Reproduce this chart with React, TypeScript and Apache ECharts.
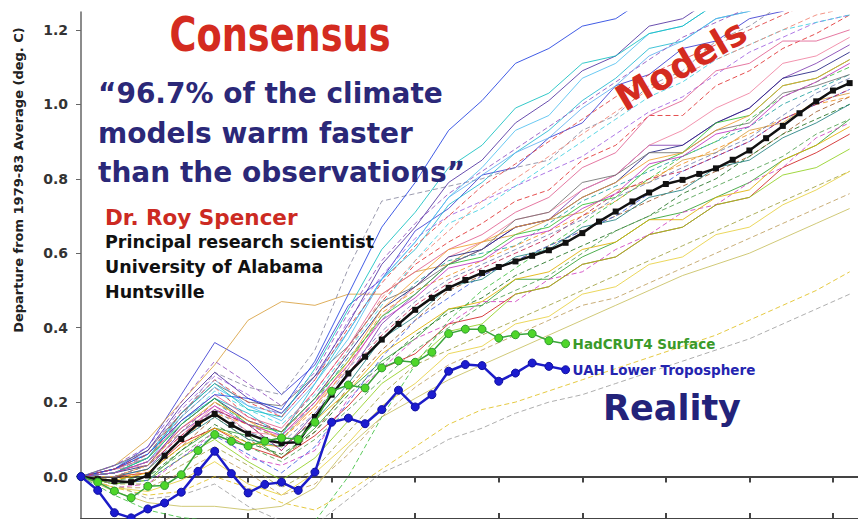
import React, { useEffect, useRef } from 'react';
import * as echarts from 'echarts';

// Years 1979..2025 (one point per year)
const firstYear = 1979;
const years: number[] = Array.from({ length: 47 }, (_, i) => firstYear + i);

// Multi-model mean (black squares)
const modelMean = [
  0, -0.007, -0.012, -0.015, 0.003, 0.056, 0.101, 0.142, 0.168, 0.139,
  0.115, 0.098, 0.09, 0.092, 0.16, 0.22, 0.277, 0.322, 0.368, 0.41,
  0.448, 0.48, 0.507, 0.528, 0.547, 0.563, 0.578, 0.593, 0.608, 0.628,
  0.654, 0.685, 0.712, 0.739, 0.763, 0.786, 0.797, 0.813, 0.828, 0.851,
  0.876, 0.909, 0.942, 0.976, 1.008, 1.037, 1.057,
];

// Observations (1979..2008)
const hadcrut4 = [
  0, -0.015, -0.039, -0.057, -0.026, -0.024, 0.005, 0.07, 0.113, 0.095,
  0.082, 0.095, 0.104, 0.1, 0.146, 0.229, 0.246, 0.238, 0.292, 0.311,
  0.307, 0.334, 0.384, 0.396, 0.396, 0.372, 0.381, 0.384, 0.365, 0.357,
];
const uah = [
  0, -0.037, -0.097, -0.111, -0.087, -0.071, -0.042, 0.014, 0.068, 0.008,
  -0.044, -0.021, -0.015, -0.037, 0.012, 0.146, 0.157, 0.142, 0.18, 0.232,
  0.187, 0.22, 0.283, 0.301, 0.298, 0.256, 0.278, 0.305, 0.296, 0.287,
];

// Individual model runs, sampled every two years
const modelYears = [
  1979, 1981, 1983, 1985, 1987, 1989, 1991, 1993, 1995, 1997, 1999, 2001,
  2003, 2005, 2007, 2009, 2011, 2013, 2015, 2017, 2019, 2021, 2023, 2025,
];
const modelRuns: number[][] = [
  [0, 0.02, 0.08, 0.22, 0.36, 0.31, 0.22, 0.30, 0.46, 0.53, 0.66, 0.72, 0.81, 0.83, 0.91, 0.95, 1.05, 1.08, 1.15, 1.17, 1.23, 1.25, 1.30, 1.32],
  [0, 0.01, 0.05, 0.16, 0.24, 0.16, 0.12, 0.23, 0.35, 0.47, 0.57, 0.63, 0.68, 0.74, 0.77, 0.85, 0.89, 0.97, 0.97, 1.05, 1.09, 1.15, 1.19, 1.24],
  [0, -0.02, -0.01, 0.07, 0.13, 0.11, 0.05, 0.13, 0.23, 0.31, 0.37, 0.45, 0.46, 0.53, 0.53, 0.59, 0.63, 0.69, 0.71, 0.75, 0.79, 0.85, 0.89, 0.96],
  [0, 0.01, 0.04, 0.15, 0.21, 0.17, 0.11, 0.25, 0.39, 0.53, 0.61, 0.73, 0.79, 0.87, 0.93, 1.01, 1.07, 1.15, 1.17, 1.23, 1.25, 1.29, 1.30, 1.32],
  [0, -0.03, -0.02, 0.05, 0.12, 0.05, 0.03, 0.07, 0.21, 0.29, 0.37, 0.41, 0.47, 0.47, 0.53, 0.55, 0.61, 0.65, 0.71, 0.73, 0.79, 0.83, 0.91, 0.95],
  [0, 0.03, 0.10, 0.20, 0.30, 0.42, 0.47, 0.46, 0.49, 0.49, 0.55, 0.57, 0.63, 0.65, 0.69, 0.71, 0.77, 0.79, 0.85, 0.87, 0.93, 0.95, 1.01, 1.03],
  [0, 0.01, 0.06, 0.16, 0.28, 0.24, 0.22, 0.34, 0.56, 0.74, 0.76, 0.78, 0.80, 0.83, 0.85, 0.93, 0.97, 1.05, 1.09, 1.17, 1.21, 1.27, 1.30, 1.30],
  [0, -0.03, -0.05, -0.04, 0.00, -0.03, -0.07, -0.09, -0.04, 0.02, 0.08, 0.14, 0.18, 0.20, 0.23, 0.26, 0.29, 0.32, 0.35, 0.38, 0.42, 0.46, 0.50, 0.55],
  [0, -0.02, -0.06, -0.05, -0.02, -0.08, -0.12, -0.13, -0.06, 0.01, 0.05, 0.10, 0.13, 0.17, 0.20, 0.22, 0.25, 0.28, 0.31, 0.34, 0.37, 0.41, 0.45, 0.49],
  [0, -0.04, -0.07, -0.08, -0.08, -0.09, -0.08, -0.03, 0.08, 0.16, 0.21, 0.26, 0.30, 0.34, 0.38, 0.42, 0.46, 0.50, 0.54, 0.57, 0.60, 0.64, 0.68, 0.72],
  [0, 0.00, 0.02, 0.12, 0.18, 0.14, 0.07, 0.17, 0.27, 0.41, 0.49, 0.57, 0.61, 0.67, 0.69, 0.77, 0.81, 0.89, 0.89, 0.95, 0.99, 1.07, 1.11, 1.16],
  [0, 0.01, 0.04, 0.12, 0.20, 0.14, 0.10, 0.20, 0.32, 0.42, 0.52, 0.58, 0.60, 0.62, 0.68, 0.74, 0.78, 0.82, 0.86, 0.90, 0.94, 1.00, 1.04, 1.08],
  [0, -0.01, 0.01, 0.08, 0.16, 0.10, 0.05, 0.12, 0.24, 0.34, 0.42, 0.50, 0.54, 0.58, 0.62, 0.66, 0.70, 0.74, 0.78, 0.82, 0.86, 0.92, 0.98, 1.02],
  [0, 0.02, 0.03, 0.11, 0.19, 0.12, 0.11, 0.19, 0.29, 0.43, 0.51, 0.59, 0.63, 0.69, 0.71, 0.77, 0.81, 0.89, 0.93, 0.99, 1.03, 1.11, 1.13, 1.18],
  [0, -0.02, 0.00, 0.07, 0.14, 0.09, 0.06, 0.12, 0.22, 0.30, 0.38, 0.44, 0.48, 0.54, 0.58, 0.62, 0.66, 0.70, 0.76, 0.80, 0.86, 0.92, 0.96, 1.00],
  [0, 0.03, 0.06, 0.17, 0.26, 0.19, 0.17, 0.27, 0.39, 0.53, 0.63, 0.75, 0.81, 0.87, 0.91, 0.99, 1.05, 1.13, 1.17, 1.23, 1.25, 1.29, 1.30, 1.30],
  [0, 0.00, 0.01, 0.09, 0.13, 0.08, 0.05, 0.11, 0.19, 0.29, 0.33, 0.41, 0.43, 0.49, 0.51, 0.57, 0.59, 0.65, 0.67, 0.73, 0.75, 0.83, 0.87, 0.92],
  [0, -0.01, 0.02, 0.10, 0.17, 0.14, 0.10, 0.18, 0.30, 0.44, 0.50, 0.54, 0.58, 0.62, 0.66, 0.70, 0.74, 0.80, 0.84, 0.88, 0.92, 0.96, 1.00, 1.02],
  [0, 0.02, 0.07, 0.18, 0.27, 0.22, 0.16, 0.26, 0.42, 0.54, 0.64, 0.70, 0.74, 0.78, 0.82, 0.86, 0.92, 0.98, 1.02, 1.08, 1.14, 1.18, 1.22, 1.24],
  [0, -0.02, -0.01, 0.05, 0.10, 0.04, -0.01, 0.05, 0.15, 0.25, 0.31, 0.39, 0.41, 0.49, 0.51, 0.57, 0.59, 0.65, 0.67, 0.73, 0.75, 0.81, 0.83, 0.88],
  [0, 0.01, 0.03, 0.14, 0.21, 0.15, 0.12, 0.21, 0.33, 0.45, 0.51, 0.59, 0.61, 0.67, 0.69, 0.75, 0.79, 0.87, 0.89, 0.95, 0.99, 1.07, 1.09, 1.14],
  [0, 0.02, 0.05, 0.14, 0.23, 0.18, 0.14, 0.22, 0.34, 0.46, 0.58, 0.68, 0.72, 0.78, 0.84, 0.90, 0.96, 1.02, 1.06, 1.12, 1.16, 1.20, 1.22, 1.24],
  [0, -0.01, 0.01, 0.08, 0.13, 0.09, 0.08, 0.15, 0.23, 0.33, 0.39, 0.45, 0.47, 0.53, 0.55, 0.61, 0.63, 0.69, 0.69, 0.75, 0.77, 0.85, 0.89, 0.94],
  [0, 0.03, 0.07, 0.17, 0.25, 0.20, 0.19, 0.27, 0.35, 0.47, 0.51, 0.57, 0.61, 0.69, 0.71, 0.79, 0.81, 0.87, 0.87, 0.93, 0.95, 1.03, 1.05, 1.08],
  [0, -0.05, -0.09, -0.11, -0.12, -0.14, -0.16, -0.12, 0.00, 0.16, 0.30, 0.42, 0.50, 0.56, 0.62, 0.68, 0.74, 0.80, 0.86, 0.90, 0.96, 1.02, 1.06, 1.10],
  [0, 0.01, 0.04, 0.12, 0.20, 0.15, 0.12, 0.20, 0.34, 0.48, 0.58, 0.66, 0.74, 0.80, 0.86, 0.92, 0.98, 1.04, 1.08, 1.12, 1.16, 1.20, 1.24, 1.26],
  [0, -0.02, -0.01, 0.05, 0.11, 0.06, 0.01, 0.08, 0.20, 0.32, 0.42, 0.48, 0.54, 0.58, 0.62, 0.66, 0.70, 0.76, 0.82, 0.86, 0.90, 0.96, 1.00, 1.04],
  [0, 0.02, 0.05, 0.15, 0.22, 0.16, 0.13, 0.23, 0.35, 0.49, 0.55, 0.61, 0.65, 0.71, 0.75, 0.83, 0.87, 0.97, 1.01, 1.09, 1.11, 1.17, 1.17, 1.20],
  [0, 0.00, 0.02, 0.10, 0.16, 0.10, 0.08, 0.15, 0.25, 0.37, 0.43, 0.51, 0.53, 0.59, 0.61, 0.67, 0.69, 0.75, 0.77, 0.83, 0.85, 0.91, 0.95, 1.00],
  [0, 0.03, 0.08, 0.20, 0.31, 0.25, 0.19, 0.28, 0.44, 0.58, 0.68, 0.76, 0.82, 0.88, 0.94, 1.00, 1.06, 1.12, 1.18, 1.22, 1.26, 1.28, 1.30, 1.30],
  [0, -0.02, -0.02, 0.03, 0.08, 0.03, -0.03, 0.02, 0.12, 0.22, 0.30, 0.34, 0.38, 0.42, 0.46, 0.50, 0.54, 0.58, 0.62, 0.66, 0.70, 0.74, 0.78, 0.82],
  [0, 0.02, 0.06, 0.16, 0.24, 0.19, 0.15, 0.25, 0.37, 0.53, 0.63, 0.75, 0.83, 0.93, 0.97, 1.07, 1.11, 1.19, 1.21, 1.27, 1.30, 1.30, 1.30, 1.30],
  [0, 0.00, 0.03, 0.11, 0.18, 0.14, 0.07, 0.16, 0.28, 0.38, 0.46, 0.52, 0.56, 0.60, 0.64, 0.70, 0.76, 0.80, 0.82, 0.86, 0.90, 0.96, 1.00, 1.04],
  [0, 0.01, 0.05, 0.14, 0.21, 0.14, 0.12, 0.21, 0.31, 0.43, 0.49, 0.57, 0.59, 0.65, 0.67, 0.73, 0.75, 0.83, 0.87, 0.95, 0.97, 1.05, 1.07, 1.12],
  [0, -0.03, -0.03, 0.01, 0.06, 0.01, -0.05, -0.02, 0.06, 0.16, 0.24, 0.30, 0.34, 0.38, 0.42, 0.46, 0.48, 0.52, 0.56, 0.60, 0.64, 0.68, 0.72, 0.76],
  [0, 0.02, 0.07, 0.19, 0.28, 0.21, 0.17, 0.27, 0.41, 0.57, 0.67, 0.79, 0.85, 0.95, 1.01, 1.09, 1.13, 1.21, 1.23, 1.29, 1.30, 1.30, 1.30, 1.30],
  [0, 0.02, 0.06, 0.15, 0.22, 0.21, 0.18, 0.31, 0.49, 0.67, 0.79, 0.93, 1.01, 1.11, 1.15, 1.21, 1.23, 1.29, 1.30, 1.30, 1.30, 1.30, 1.30, 1.30],
  [0, 0.01, 0.05, 0.17, 0.25, 0.18, 0.16, 0.29, 0.45, 0.61, 0.71, 0.83, 0.89, 0.99, 1.03, 1.11, 1.13, 1.19, 1.21, 1.27, 1.28, 1.30, 1.30, 1.30],
  [0, 0.00, 0.03, 0.13, 0.20, 0.15, 0.10, 0.19, 0.31, 0.45, 0.53, 0.61, 0.63, 0.67, 0.69, 0.75, 0.79, 0.85, 0.87, 0.93, 0.97, 1.05, 1.07, 1.12],
  [0, -0.01, 0.00, 0.06, 0.12, 0.08, 0.04, 0.10, 0.18, 0.26, 0.34, 0.40, 0.46, 0.50, 0.54, 0.60, 0.66, 0.70, 0.74, 0.78, 0.82, 0.86, 0.92, 0.96],
  [0, 0.01, 0.04, 0.13, 0.19, 0.14, 0.11, 0.20, 0.30, 0.42, 0.48, 0.56, 0.58, 0.64, 0.66, 0.72, 0.76, 0.84, 0.86, 0.92, 0.94, 1.02, 1.06, 1.11],
  [0, 0.00, 0.03, 0.10, 0.18, 0.12, 0.09, 0.17, 0.29, 0.39, 0.47, 0.53, 0.57, 0.61, 0.65, 0.69, 0.75, 0.79, 0.83, 0.87, 0.91, 0.97, 1.03, 1.07],
  [0, -0.03, -0.04, -0.01, 0.04, -0.02, -0.05, 0.01, 0.09, 0.19, 0.25, 0.33, 0.35, 0.41, 0.43, 0.49, 0.51, 0.57, 0.59, 0.65, 0.67, 0.73, 0.77, 0.82],
  [0, 0.02, 0.06, 0.17, 0.26, 0.20, 0.16, 0.26, 0.40, 0.52, 0.62, 0.70, 0.78, 0.84, 0.90, 0.96, 1.02, 1.08, 1.12, 1.16, 1.20, 1.24, 1.28, 1.30],
];
const modelColors = [
  '#3a3ad0', '#e03030', '#30a030', '#20b8d0', '#d040c0', '#d8a040', '#8a8aa0', '#e0c020', '#a0a0a0', '#c8c060',
  '#8040b0', '#20a0a0', '#a05a2a', '#f080a0', '#207020', '#60b0f0', '#d02020', '#f09020', '#a060e0', '#90d020',
  '#202080', '#40d0e0', '#e0b000', '#707070', '#40c040', '#f08070', '#4060e0', '#e06090', '#208080', '#9050c0',
  '#a0a040', '#50c0f0', '#c02050', '#30c030', '#c0a060', '#5030a0', '#2040e0', '#10c0c0', '#f0a030', '#50a050',
  '#c030c0', '#7080b0', '#e8d040', '#e04040',
];
const modelDashed = [
  false, true, false, false, true, false, true, true, true, false,
  false, true, true, false, true, false, false, true, true, false,
  false, true, false, false, true, true, true, false, false, true,
  true, false, true, false, true, false, false, false, false, true,
  false, true, false, true,
];

const yTicks = [0, 0.2, 0.4, 0.6, 0.8, 1.0, 1.2];
const xTicks = [1984, 1989, 1994, 1999, 2004, 2009, 2014, 2019, 2024];

const BOLD = '"DejaVu Sans", Verdana, sans-serif';
const CONDENSED = '"DejaVu Sans Condensed", "DejaVu Sans", sans-serif';

export default function App() {
  const ref = useRef<HTMLDivElement>(null);
  useEffect(() => {
    if (!ref.current) return;
    const chart = echarts.init(ref.current, null, { renderer: 'svg' });
    const xBase = {
      type: 'value',
      min: 1979,
      max: 2025.5,
      position: 'bottom',
      axisLabel: { show: false },
      splitLine: { show: false },
      axisLine: { show: true, onZero: true, lineStyle: { color: '#444', width: 2 } },
    };
    const modelSeries = modelRuns.map((vals, k) => ({
      type: 'line',
      data: modelYears.map((yr, j) => [yr, vals[j]]),
      symbol: 'none',
      silent: true,
      z: 1,
      lineStyle: { width: 1, color: modelColors[k], type: modelDashed[k] ? [5, 3] : 'solid', opacity: 0.85 },
    }));
    const obsLabel = (color: string) => ({
      show: true,
      formatter: '{a}',
      color,
      fontFamily: BOLD,
      fontWeight: 'bold',
      fontSize: 13.5,
      distance: 7,
    });
    const txt = (x: number, y: number, text: string, font: string, fill: string, align = 'left', rotation = 0) => ({
      type: 'text',
      x,
      y,
      z: 10,
      rotation,
      style: { text, font, fill, textAlign: align, textVerticalAlign: 'middle' },
    });
    chart.setOption({
      animation: false,
      backgroundColor: '#ffffff',
      grid: { left: 81, right: 0, top: 12, bottom: 0, containLabel: false },
      xAxis: [
        { ...xBase, axisTick: { show: true, inside: false, length: 6, customValues: xTicks, lineStyle: { color: '#444', width: 2 } } },
        { ...xBase, axisTick: { show: true, inside: true, length: 6, customValues: xTicks, lineStyle: { color: '#444', width: 2 } } },
      ],
      yAxis: {
        type: 'value',
        min: -0.114,
        max: 1.248,
        axisLine: { show: true, onZero: false, lineStyle: { color: '#666', width: 1.5 } },
        axisTick: { show: true, length: 5, customValues: yTicks, lineStyle: { color: '#666', width: 1 } },
        axisLabel: {
          customValues: yTicks,
          formatter: (v: number) => v.toFixed(1),
          fontFamily: BOLD,
          fontWeight: 'bold',
          fontSize: 14,
          color: '#333',
          margin: 13,
        },
        splitLine: { show: false },
      },
      series: [
        ...modelSeries,
        {
          name: 'Multi-model mean',
          type: 'line',
          data: years.map((yr, i) => [yr, modelMean[i]]),
          symbol: 'rect',
          symbolSize: 6,
          z: 3,
          itemStyle: { color: '#111' },
          lineStyle: { color: '#111', width: 2.5 },
        },
        {
          name: 'HadCRUT4 Surface',
          type: 'line',
          data: hadcrut4.map((v, i) => [years[i], v]),
          symbol: 'circle',
          symbolSize: 8,
          z: 4,
          itemStyle: { color: '#4fd62a', borderColor: '#2f9a2f', borderWidth: 1 },
          lineStyle: { color: '#3aa53a', width: 1.5 },
          endLabel: obsLabel('#3a9a2a'),
        },
        {
          name: 'UAH Lower Troposphere',
          type: 'line',
          data: uah.map((v, i) => [years[i], v]),
          symbol: 'circle',
          symbolSize: 8,
          z: 5,
          itemStyle: { color: '#1c1cd0', borderColor: '#1010a0', borderWidth: 1 },
          lineStyle: { color: '#1c1cc8', width: 2.5 },
          endLabel: obsLabel('#2424b0'),
        },
      ],
      graphic: [
        txt(18, 180, 'Departure from 1979-83 Average (deg. C)', `bold 13px ${BOLD}`, '#222', 'center', Math.PI / 2),
        {
          type: 'group',
          x: 280,
          y: 35,
          scaleX: 0.85,
          scaleY: 1,
          z: 10,
          children: [
            {
              type: 'text',
              x: 0,
              y: 0,
              style: { text: 'Consensus', font: `bold 48px ${CONDENSED}`, fill: '#d42b20', textAlign: 'center', textVerticalAlign: 'middle' },
            },
          ],
        },
        txt(98, 93, '“96.7% of the climate', `bold 28px ${BOLD}`, '#2b2878'),
        txt(98, 133, 'models warm faster', `bold 28px ${BOLD}`, '#2b2878'),
        txt(98, 172, 'than the observations”', `bold 28px ${BOLD}`, '#2b2878'),
        txt(105, 217, 'Dr. Roy Spencer', `bold 21.5px ${BOLD}`, '#cc2a22'),
        txt(105, 242, 'Principal research scientist', `bold 17.5px ${BOLD}`, '#111'),
        txt(105, 267, 'University of Alabama', `bold 17.5px ${BOLD}`, '#111'),
        txt(105, 292, 'Huntsville', `bold 17.5px ${BOLD}`, '#111'),
        txt(681, 65, 'Models', `bold 36px ${BOLD}`, '#d42b20', 'center', 0.53),
        txt(672, 408, 'Reality', `bold 35px ${BOLD}`, '#23237a', 'center'),
      ],
    });
    return () => chart.dispose();
  }, []);
  return (
    <div
      ref={ref}
      style={{ position: 'fixed', left: 0, top: 0, width: 858, height: 519, background: '#fff' }}
    />
  );
}
